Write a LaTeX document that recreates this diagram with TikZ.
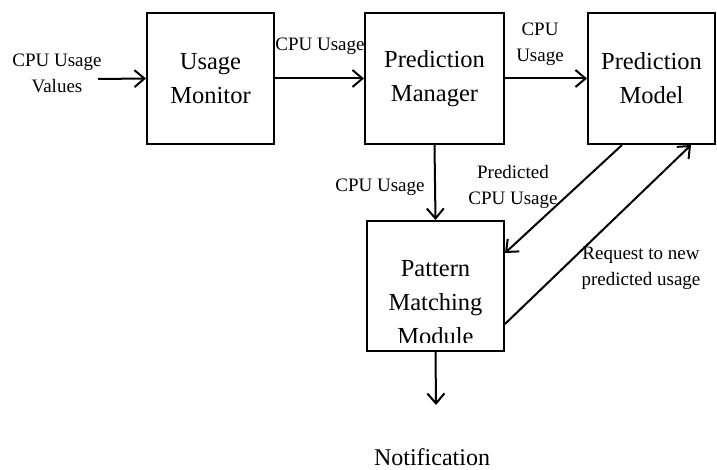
\documentclass[tikz,border=0pt]{standalone}
\usepackage{fontspec}
\setmainfont{Liberation Serif}
\usetikzlibrary{arrows.meta,calc}
\begin{document}
\begin{tikzpicture}[x=1pt,y=-1pt,
  block/.style={draw,line width=2pt,inner sep=0pt,align=center,
    font=\fontsize{24.5}{34}\selectfont},
  lbl/.style={align=center,inner sep=0pt,font=\fontsize{19}{26}\selectfont},
  flow/.style={line width=2pt,-{Straight Barb[length=10pt,width=17pt,line width=2pt]}}]
\useasboundingbox (0,0) rectangle (717,470);

% processing blocks
\node[block,minimum width=127,minimum height=131] (um) at (210.5,78.5) {Usage\\Monitor};
\node[block,minimum width=139,minimum height=131] (pm) at (434.5,78.5) {Prediction\\Manager};
\node[block,minimum width=127,minimum height=131] (model) at (651.5,78.5) {Prediction\\Model};
\node[block,minimum width=137,minimum height=130] (pmm) at (435.5,286) {};
% the third line runs past the box and is cut off near its baseline
\begin{scope}
  \clip (pmm.north west) rectangle ($(pmm.south east)+(0,-10)$);
  \node[block,draw=none] (pmmtext) at (435.5,303) {Pattern\\Matching\\Module};
\end{scope}

% free ends
\coordinate (src) at (98,79);
\coordinate (notifend) at (436,405);

% connectors
\draw[flow] (src) -- (um.west);
\draw[flow] (um.east) -- (pm.west);
\draw[flow] (pm.east) -- (model.west);
\draw[flow] (pm.south) -- (pmm.north);
\draw[flow] ($(model.south west)+(35,0)$) -- ($(pmm.east)+(0,-33)$);
\draw[flow] ($(pmm.south east)+(0,-28)$) -- ($(model.south west)+(104,0)$);
\draw[flow] (pmm.south) -- (notifend);

% labels
\node[lbl] (lin) at (57,73) {CPU Usage\\Values};
\node[lbl] (l1) at (320,46) {CPU Usage};
\node[lbl] (l2) at (540,44) {CPU\\Usage};
\node[lbl] (l3) at (380,187) {CPU Usage};
\node[lbl] (l4) at (513,187) {Predicted\\CPU Usage};
\node[lbl] (l5) at (641,268) {Request to new\\predicted usage};
\node[inner sep=0pt,font=\fontsize{24}{30}\selectfont] (notif) at (432,457) {Notification};
\end{tikzpicture}
\end{document}
